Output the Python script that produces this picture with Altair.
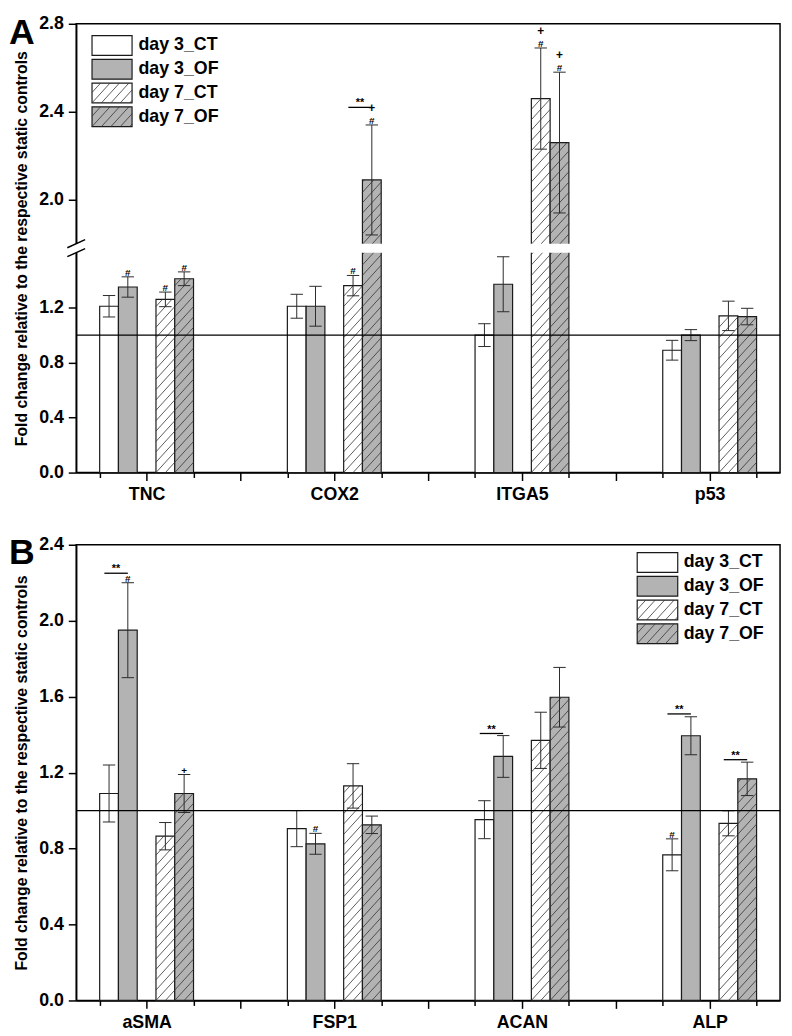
import altair as alt
import numpy as np
import pandas as pd

FONT = "Liberation Sans"

# ---------------- data ----------------
series = ["day 3_CT", "day 3_OF", "day 7_CT", "day 7_OF"]

genes_a = ["TNC", "COX2", "ITGA5", "p53"]
a_d3_ct = [1.21, 1.21, 1.00, 0.89]
a_d3_of = [1.35, 1.21, 1.37, 1.00]
a_d7_ct = [1.26, 1.36, 2.46, 1.14]
a_d7_of = [1.41, 2.09, 2.26, 1.135]
a_err_d3_ct = [0.078, 0.087, 0.083, 0.072]
a_err_d3_of = [0.074, 0.145, 0.20, 0.04]
a_err_d7_ct = [0.053, 0.074, 0.23, 0.107]
a_err_d7_of = [0.05, 0.25, 0.32, 0.06]

genes_b = ["aSMA", "FSP1", "ACAN", "ALP"]
b_d3_ct = [1.09, 0.905, 0.952, 0.767]
b_d3_of = [1.95, 0.825, 1.285, 1.394]
b_d7_ct = [0.865, 1.13, 1.37, 0.933]
b_d7_of = [1.09, 0.925, 1.597, 1.167]
b_err_d3_ct = [0.15, 0.095, 0.10, 0.084]
b_err_d3_of = [0.25, 0.055, 0.11, 0.10]
b_err_d7_ct = [0.072, 0.117, 0.148, 0.066]
b_err_d7_of = [0.10, 0.046, 0.157, 0.088]

# significance symbols: (gene, series, symbol just above error bar, symbol above that)
sig_a = [("TNC", "day 3_OF", "#", ""), ("TNC", "day 7_CT", "#", ""), ("TNC", "day 7_OF", "#", ""),
         ("COX2", "day 7_CT", "#", ""), ("COX2", "day 7_OF", "#", "+"),
         ("ITGA5", "day 7_CT", "#", "+"), ("ITGA5", "day 7_OF", "#", "+")]
sig_b = [("aSMA", "day 3_OF", "#", ""), ("aSMA", "day 7_OF", "+", ""),
         ("FSP1", "day 3_OF", "#", ""), ("ALP", "day 3_CT", "#", "")]
# "**" brackets: (gene, day pair, height)
brk_a = [("COX2", "day 7", 2.42)]
brk_b = [("aSMA", "day 3", 2.25), ("ACAN", "day 3", 1.406),
         ("ALP", "day 3", 1.509), ("ALP", "day 7", 1.268)]

y_ticks_a = [0.0, 0.2, 0.4, 0.6, 0.8, 1.0, 1.2, 1.4, 2.0, 2.2, 2.4, 2.6, 2.8]
y_ticks_b = [0.0, 0.2, 0.4, 0.6, 0.8, 1.0, 1.2, 1.4, 1.6, 1.8, 2.0, 2.2, 2.4]
x_ticks = [-0.25, 0.0, 0.25, 0.5, 0.75, 1.0, 1.25, 1.5, 1.75, 2.0, 2.25, 2.5, 2.75, 3.0, 3.25]
y_title = "Fold change relative to the respective static controls"

# ---------------- geometry / style ----------------
W = 712
XMIN, XMAX = -0.375, 3.375
OFF = {"day 3_CT": -0.2, "day 3_OF": -0.1, "day 7_CT": 0.1, "day 7_OF": 0.2}
HALF = 0.05
CAP = 0.033
GRAY = "#b3b3b3"
FILLS = ["white", GRAY, "white", GRAY]
HATCHED = {"day 7_CT", "day 7_OF"}
SLOPE, PERIOD = 1.1, 10.5


def x_to_px(x):
    return (x - XMIN) * W / (XMAX - XMIN)


def px_to_x(p):
    return XMIN + p * (XMAX - XMIN) / W


class YMap:
    def __init__(self, dom, rng):
        self.dom = list(dom)
        self.rng = list(rng)

    def to_px(self, v):
        return float(np.interp(v, self.dom, self.rng))

    def to_val(self, p):
        return float(np.interp(p, self.rng[::-1], self.dom[::-1]))


def hatch(xl, xr, yb, yt, ym):
    X0, X1 = x_to_px(xl), x_to_px(xr)
    Pb, Pt = ym.to_px(yb), ym.to_px(yt)
    w, h = X1 - X0, Pb - Pt
    out = []
    k = int(np.floor(-SLOPE * w / PERIOD))
    while k * PERIOD < h:
        c = k * PERIOD
        lo = max(0.0, -c / SLOPE)
        hi = min(w, (h - c) / SLOPE)
        if hi - lo > 0.3:
            out.append(dict(xa=px_to_x(X0 + lo), ya=ym.to_val(Pb - (c + SLOPE * lo)),
                            xb=px_to_x(X0 + hi), yb=ym.to_val(Pb - (c + SLOPE * hi))))
        k += 1
    return out


def build_panel(genes, means, errs, sig, brk, ym, height, yvals, letter, letter_y,
                leg_x0, leg_x1, leg_rows, leg_tx, gap=None):
    bars, hatches, ebars = [], [], []
    for si, s in enumerate(series):
        for gi, g in enumerate(genes):
            cx = gi + OFF[s]
            m, e = means[si][gi], errs[si][gi]
            bars.append(dict(series=s, xa=cx - HALF, xb=cx + HALF, ya=0.0, yb=m))
            if s in HATCHED:
                hatches += hatch(cx - HALF, cx + HALF, 0.0, m, ym)
            ebars += [dict(xa=cx, xb=cx, ya=m - e, yb=m + e),
                      dict(xa=cx - CAP, xb=cx + CAP, ya=m + e, yb=m + e),
                      dict(xa=cx - CAP, xb=cx + CAP, ya=m - e, yb=m - e)]

    s0, s1 = [], []
    for g, s, t0, t1 in sig:
        gi, si = genes.index(g), series.index(s)
        cx = gi + OFF[s]
        top = means[si][gi] + errs[si][gi]
        if t0:
            s0.append(dict(xa=cx, ya=top, t=t0))
        if t1:
            s1.append(dict(xa=cx, ya=top, t=t1))

    brules, btext = [], []
    for g, pair, h in brk:
        gi = genes.index(g)
        a, b = (gi - 0.225, gi - 0.1) if pair == "day 3" else (gi + 0.075, gi + 0.2)
        brules.append(dict(xa=a, xb=b, ya=h, yb=h))
        btext.append(dict(xa=(a + b) / 2, ya=h, t="**"))

    leg_rects, leg_text, leg_h = [], [], []
    for i, s in enumerate(series):
        c = leg_rows[i]
        xa, xb = px_to_x(leg_x0), px_to_x(leg_x1)
        ya, yb = ym.to_val(c + 10), ym.to_val(c - 10)
        leg_rects.append(dict(series=s, xa=xa, xb=xb, ya=ya, yb=yb))
        if s in HATCHED:
            leg_h += hatch(xa, xb, ya, yb, ym)
        leg_text.append(dict(xa=px_to_x(leg_tx), ya=ym.to_val(c), t=s))

    xenc = alt.X("xa:Q", scale=alt.Scale(domain=[XMIN, XMAX], nice=False, zero=False),
                 axis=alt.Axis(values=x_ticks, title=None, grid=False, labelOverlap=False,
                               labelFlush=False, labelPadding=5,
                               labelExpr="abs(datum.value - round(datum.value)) < 0.01 && datum.value >= 0 && datum.value <= 3 ? "
                                         + str(genes) + "[round(datum.value)] : ''",
                               tickSize={"condition": {"test": "round(datum.value*4) % 2 == 0", "value": 8}, "value": 5}))
    yenc = alt.Y("ya:Q", scale=alt.Scale(domain=ym.dom, range=ym.rng, nice=False, zero=False),
                 axis=alt.Axis(values=yvals, title=y_title, grid=False, labelOverlap=False,
                               labelFlush=False, labelPadding=5, titlePadding=9, zindex=0,
                               labelExpr="round(datum.value*10) % 4 == 0 ? format(datum.value, '.1f') : ''",
                               tickSize={"condition": {"test": "round(datum.value*10) % 4 == 0", "value": 8}, "value": 4}))
    color = alt.Color("series:N", scale=alt.Scale(domain=series, range=FILLS), legend=None)

    def rules(rows, col="#222222", sw=1.0):
        return alt.Chart(pd.DataFrame(rows)).mark_rule(color=col, strokeWidth=sw).encode(
            x="xa:Q", x2="xb:Q", y="ya:Q", y2="yb:Q")

    def texts(rows, size, dy, align="center", baseline="bottom"):
        return alt.Chart(pd.DataFrame(rows)).mark_text(
            font=FONT, fontWeight="bold", fontSize=size, dy=dy, align=align, baseline=baseline,
            color="black").encode(x="xa:Q", y="ya:Q", text="t:N")

    layers = [
        alt.Chart(pd.DataFrame(bars)).mark_rect(stroke="#1a1a1a", strokeWidth=1.2).encode(
            x=xenc, x2="xb:Q", y=yenc, y2="yb:Q", color=color),
        rules(hatches, "#333333", 0.8),
        rules(ebars, "#2a2a2a", 1.0),
        alt.Chart(pd.DataFrame({"ya": [1.0]})).mark_rule(color="black", strokeWidth=1.3).encode(
            y="ya:Q"),
        texts(s0, 10, 1),
    ]
    if s1:
        layers.append(texts(s1, 12, -10))
    layers += [rules(brules, "black", 1.3), texts(btext, 11, 1)]
    if gap is not None:
        g_lo, g_hi = gap
        layers.append(alt.Chart(pd.DataFrame([dict(xa=XMIN - 0.015, xb=XMAX - 0.007, ya=g_lo, yb=g_hi)]))
                      .mark_rect(fill="white", strokeWidth=0).encode(
                          x="xa:Q", x2="xb:Q", y="ya:Q", y2="yb:Q"))
        p_top, p_bot = ym.to_px(g_hi), ym.to_px(g_lo)
        brk_lines = []
        for p in (p_top, p_bot):
            brk_lines.append(dict(xa=px_to_x(x_to_px(XMIN) - 9), ya=ym.to_val(p + 4.1),
                                  xb=px_to_x(x_to_px(XMIN) + 9), yb=ym.to_val(p - 4.1)))
        layers.append(rules(brk_lines, "black", 1.5))
    # legend
    layers.append(alt.Chart(pd.DataFrame(leg_rects)).mark_rect(stroke="#1a1a1a", strokeWidth=1.2).encode(
        x="xa:Q", x2="xb:Q", y="ya:Q", y2="yb:Q", color=color))
    layers.append(rules(leg_h, "#333333", 0.8))
    layers.append(texts(leg_text, 18, 0, align="left", baseline="middle"))
    layers.append(alt.Chart(pd.DataFrame({"t": [letter]})).mark_text(
        font=FONT, fontWeight="bold", fontSize=36, align="left", baseline="top", color="black").encode(
        x=alt.value(-68), y=alt.value(letter_y), text="t:N"))
    return alt.layer(*layers).properties(width=W, height=height)


H_A = 454
ym_a = YMap([0.0, 1.6, 1.8, 2.8], [H_A, H_A - 222.5, H_A - 231.5, 0.0])
H_B = 461
ym_b = YMap([0.0, 2.4], [H_B, 0.0])

means_a = [a_d3_ct, a_d3_of, a_d7_ct, a_d7_of]
errs_a = [a_err_d3_ct, a_err_d3_of, a_err_d7_ct, a_err_d7_of]
means_b = [b_d3_ct, b_d3_of, b_d7_ct, b_d7_of]
errs_b = [b_err_d3_ct, b_err_d3_of, b_err_d7_ct, b_err_d7_of]

panel_a = build_panel(genes_a, means_a, errs_a, sig_a, brk_a, ym_a, H_A, y_ticks_a, "A", -8,
                      16, 56.5, [22, 46, 70, 94], 63, gap=(1.6, 1.8))
panel_b = build_panel(genes_b, means_b, errs_b, sig_b, brk_b, ym_b, H_B, y_ticks_b, "B", -9,
                      567.5, 608.5, [18, 42, 66, 90], 614.5)

chart = alt.vconcat(panel_a, panel_b, spacing=30).resolve_scale(
    x="independent", y="independent"
).properties(
    padding={"left": 0, "top": 0, "right": 2, "bottom": 0}
).configure_view(
    stroke="black", strokeWidth=1.5
).configure_axis(
    labelFont=FONT, labelFontSize=18, labelFontWeight="bold", labelColor="black",
    titleFont=FONT, titleFontSize=16, titleFontWeight="bold", titleColor="black",
    domainColor="black", domainWidth=1.5, tickColor="black", tickWidth=1.5, grid=False
)

chart.save("out.html", embed_options={"renderer": "svg", "actions": False})
